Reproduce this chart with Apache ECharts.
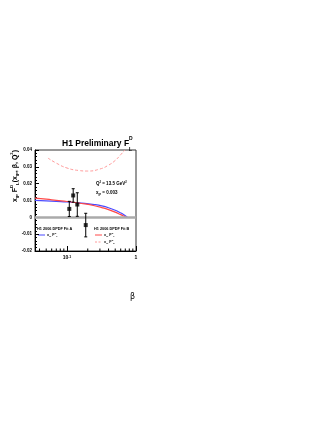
<!DOCTYPE html>
<html>
<head>
<meta charset="utf-8">
<script src="https://cdn.jsdelivr.net/npm/echarts@6/dist/echarts.min.js"></script>
<style>
html, body { margin: 0; padding: 0; background: #fff; }
#main { width: 332px; height: 430px; }
</style>
</head>
<body>
<div id="main"></div>
<script>
// H1 measured points
const DATA_BETA = [0.108, 0.123, 0.141, 0.187]
const DATA_VAL = [0.0050, 0.0130, 0.0076, -0.0046]
const DATA_ERR = [0.0045, 0.0040, 0.0070, 0.0070]

// fit A, x_IP F_L^D
const FITA_BETA = [0.0344, 0.05, 0.07, 0.1, 0.13, 0.18, 0.25, 0.32, 0.4, 0.5, 0.6, 0.65, 0.7, 0.75]
const FITA_VAL = [0.0101, 0.0098, 0.0095, 0.0092, 0.0088, 0.0083, 0.0076, 0.0068, 0.0057, 0.0042, 0.0026, 0.0018, 0.0009, 0.0]
// fit B, x_IP F_L^D
const FITB_BETA = [0.0344, 0.05, 0.07, 0.1, 0.13, 0.18, 0.25, 0.32, 0.4, 0.5, 0.6, 0.65, 0.72]
const FITB_VAL = [0.0114, 0.0108, 0.0101, 0.0094, 0.0088, 0.0080, 0.0069, 0.0058, 0.0046, 0.0031, 0.0016, 0.0009, 0.0]
// fit B, x_IP F_2^D
const F2_BETA = [0.053, 0.07, 0.1, 0.15, 0.2, 0.3, 0.4, 0.5, 0.6, 0.69]
const F2_VAL = [0.0352, 0.0322, 0.0293, 0.0278, 0.0275, 0.0287, 0.0310, 0.0338, 0.0372, 0.0400]

const X_MINOR = [0.04, 0.05, 0.06, 0.07, 0.08, 0.09, 0.2, 0.3, 0.4, 0.5, 0.6, 0.7, 0.8, 0.9]

const FONT = "Liberation Sans"

const pairs = (xs, ys) => xs.map((x, i) => [x, ys[i]])

function txt(x, y, text, size, extra) {
    return Object.assign({
        type: "text",
        x: x,
        y: y,
        style: {
            text: text,
            fontSize: size,
            fontWeight: "bold",
            fontFamily: FONT,
            fill: "#000",
            textAlign: "left",
            textVerticalAlign: "middle",
        },
    }, extra || {})
}

function richTxt(x, y, text, size, extra) {
    const t = txt(x, y, text, size, extra)
    t.style.rich = {
        sub: { fontSize: size * 0.6, fontWeight: "bold", fontFamily: FONT, verticalAlign: "bottom", lineHeight: size * 1.5 },
        sup: { fontSize: size * 0.6, fontWeight: "bold", fontFamily: FONT, verticalAlign: "top", lineHeight: size * 1.5 },
    }
    t.style.lineHeight = size * 1.5
    return t
}

let myChart = echarts.init(document.getElementById("main"))

myChart.setOption({
    animation: false,
    backgroundColor: "#fff",
    grid: {
        left: 35,
        right: 196,
        top: 150,
        bottom: 179,
        show: true,
        borderColor: "#333",
        borderWidth: 1,
    },
    xAxis: {
        type: "log",
        min: 0.0344,
        max: 1,
        axisLine: { show: true, onZero: false, lineStyle: { color: "#000", width: 1 } },
        axisTick: { show: true, inside: true, length: 5, lineStyle: { color: "#000" } },
        splitLine: { show: false },
        axisLabel: {
            margin: 4,
            color: "#000",
            fontSize: 5,
            fontWeight: "bold",
            fontFamily: FONT,
            showMinLabel: false,
            formatter: v => {
                if (Math.abs(v - 0.1) < 1e-6) return "{b|10}{s|-1}"
                if (Math.abs(v - 1) < 1e-6) return "1"
                return ""
            },
            rich: {
                b: { fontSize: 5, fontWeight: "bold", fontFamily: FONT },
                s: { fontSize: 3.5, fontWeight: "bold", fontFamily: FONT, verticalAlign: "top" },
            },
        },
    },
    yAxis: {
        type: "value",
        min: -0.02,
        max: 0.04,
        interval: 0.01,
        axisLine: { show: true, lineStyle: { color: "#000", width: 1 } },
        axisTick: { show: true, inside: true, length: 4, lineStyle: { color: "#000" } },
        minorTick: { show: true, splitNumber: 5, length: 2, lineStyle: { color: "#000" } },
        splitLine: { show: false },
        axisLabel: {
            margin: 3,
            color: "#000",
            fontSize: 4.5,
            fontWeight: "bold",
            fontFamily: FONT,
            formatter: v => (Math.abs(v) < 1e-9 ? "0" : String(+v.toFixed(2))),
        },
    },
    series: [
        {
            // minor ticks on the log axis
            type: "custom",
            silent: true,
            renderItem: (params, api) => {
                const p = api.coord([api.value(0), -0.02])
                return {
                    type: "line",
                    shape: { x1: p[0], y1: p[1], x2: p[0], y2: p[1] - 2.5 },
                    style: { stroke: "#000", lineWidth: 1 },
                }
            },
            data: X_MINOR.map(b => [b, -0.02]),
            z: 5,
        },
        {
            type: "line",
            name: "F2 fit B",
            data: pairs(F2_BETA, F2_VAL),
            showSymbol: false,
            smooth: true,
            lineStyle: { color: "#ff9a9a", width: 1, type: [3, 2] },
            markLine: {
                silent: true,
                symbol: "none",
                label: { show: false },
                lineStyle: { color: "#aaa", width: 2.5, type: "solid" },
                data: [{ yAxis: 0 }],
            },
        },
        {
            type: "line",
            name: "FL fit A",
            data: pairs(FITA_BETA, FITA_VAL),
            showSymbol: false,
            smooth: true,
            lineStyle: { color: "#4b4bff", width: 1.2 },
        },
        {
            type: "line",
            name: "FL fit B",
            data: pairs(FITB_BETA, FITB_VAL),
            showSymbol: false,
            smooth: true,
            lineStyle: { color: "#ff4848", width: 1.2 },
        },
        {
            // error bars
            type: "custom",
            silent: true,
            renderItem: (params, api) => {
                const top = api.coord([api.value(0), api.value(1) + api.value(2)])
                const bot = api.coord([api.value(0), api.value(1) - api.value(2)])
                const s = { stroke: "#000", lineWidth: 1 }
                return {
                    type: "group",
                    children: [
                        { type: "line", shape: { x1: top[0], y1: top[1], x2: bot[0], y2: bot[1] }, style: s },
                        { type: "line", shape: { x1: top[0] - 1.5, y1: top[1], x2: top[0] + 1.5, y2: top[1] }, style: s },
                        { type: "line", shape: { x1: bot[0] - 1.5, y1: bot[1], x2: bot[0] + 1.5, y2: bot[1] }, style: s },
                    ],
                }
            },
            data: DATA_BETA.map((b, i) => [b, DATA_VAL[i], DATA_ERR[i]]),
            z: 6,
        },
        {
            type: "scatter",
            data: pairs(DATA_BETA, DATA_VAL),
            symbol: "rect",
            symbolSize: 4,
            itemStyle: { color: "#000" },
            z: 7,
        },
    ],
    graphic: [
        // title
        txt(62, 144, "H1 Preliminary F", 8.5),
        txt(129, 139, "D", 5),
        txt(129, 150, "L", 5),
        // y axis title
        richTxt(15, 150, "x{sub|IP} F{sup|D}{sub|L}(x{sub|IP}, β, Q{sup|2})", 7, {
            rotation: Math.PI / 2,
            style: Object.assign({}, richTxt(0, 0, "x{sub|IP} F{sup|D}{sub|L}(x{sub|IP}, β, Q{sup|2})", 7).style, { textAlign: "right" }),
        }),
        // β
        txt(130, 297, "β", 8, { style: { text: "β", fontSize: 8, fontFamily: "DejaVu Sans", fill: "#000", textVerticalAlign: "middle" } }),
        // kinematics
        richTxt(96, 184, "Q{sup|2} = 13.5 GeV{sup|2}", 4.5),
        richTxt(96, 193, "x{sub|IP} = 0.003", 4.5),
        // legend
        txt(37, 229, "H1 2006 DPDF Fit A", 3.8),
        { type: "line", shape: { x1: 38, y1: 235, x2: 45, y2: 235 }, style: { stroke: "#4b4bff", lineWidth: 1 } },
        richTxt(47, 235, "x{sub|IP} F{sup|D}{sub|L}", 3.8),
        txt(94, 229, "H1 2006 DPDF Fit B", 3.8),
        { type: "line", shape: { x1: 95, y1: 235, x2: 102, y2: 235 }, style: { stroke: "#ff4848", lineWidth: 1 } },
        richTxt(104, 235, "x{sub|IP} F{sup|D}{sub|L}", 3.8),
        { type: "line", shape: { x1: 95, y1: 242, x2: 102, y2: 242 }, style: { stroke: "#ff9a9a", lineWidth: 1, lineDash: [2, 1.5] } },
        richTxt(104, 242, "x{sub|IP} F{sup|D}{sub|2}", 3.8),
    ],
})

window.addEventListener("resize", function () {
    myChart.resize()
})
</script>
</body>
</html>
